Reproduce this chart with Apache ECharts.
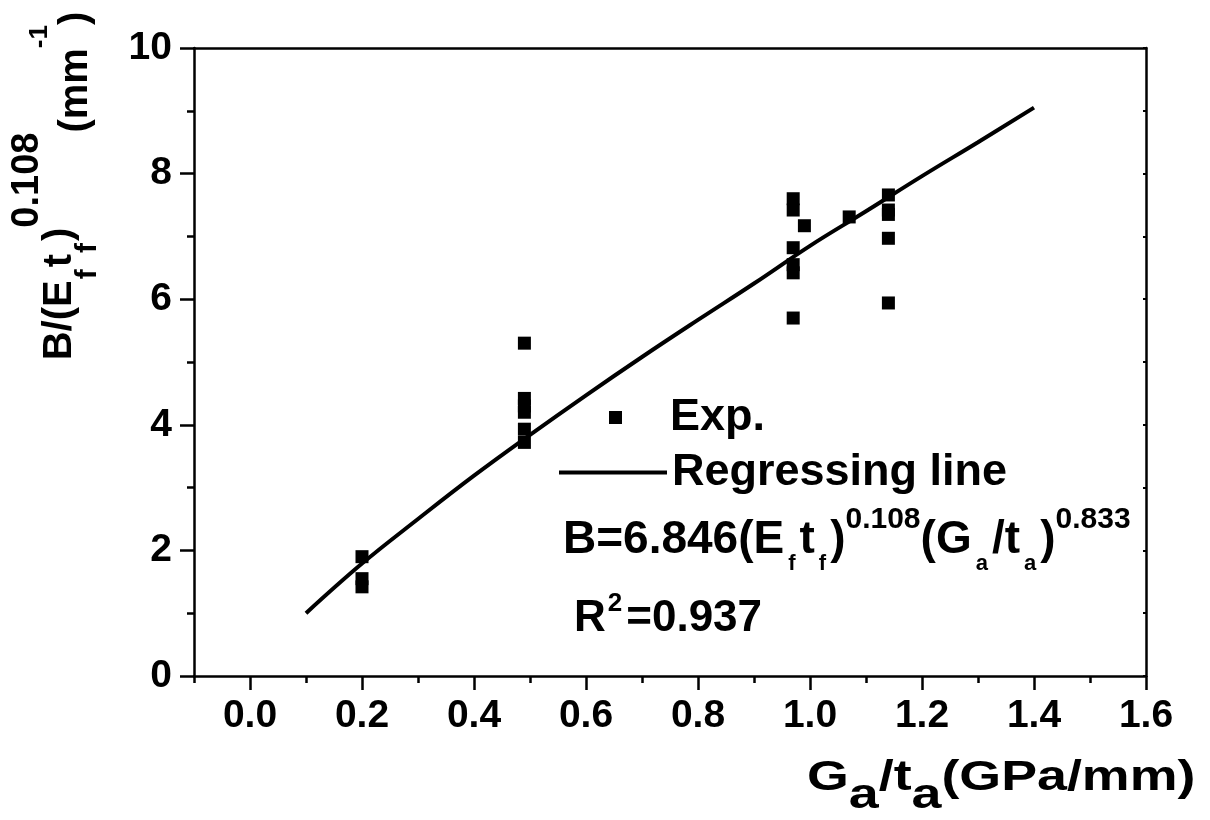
<!DOCTYPE html>
<html>
<head>
<meta charset="utf-8">
<script src="https://cdn.jsdelivr.net/npm/echarts@6/dist/echarts.min.js"></script>
<style>
html,body{margin:0;padding:0;background:#fff;}
#chart{width:1210px;height:820px;}
</style>
</head>
<body>
<div id="chart"></div>
<script>
// ---- data ----
const expX = [0.2, 0.2, 0.2, 0.49, 0.49, 0.49, 0.49, 0.49, 0.49, 0.97, 0.97, 0.97, 0.97, 0.97, 0.97, 0.99, 1.07, 1.14, 1.14, 1.14, 1.14, 1.14];
const expY = [1.9, 1.55, 1.42, 5.3, 4.42, 4.3, 4.2, 3.93, 3.72, 7.6, 7.42, 6.82, 6.55, 6.42, 5.7, 7.17, 7.31, 7.66, 7.42, 7.35, 6.97, 5.94];
const fitX = [0.1, 0.2, 0.3, 0.4, 0.5, 0.6, 0.7, 0.8, 0.9, 1.0, 1.1, 1.2, 1.3, 1.4];
const fitY = [1.0, 1.79, 2.5, 3.19, 3.84, 4.47, 5.08, 5.67, 6.25, 6.85, 7.4, 7.96, 8.5, 9.05];
const xLabelVals = [0, 0.2, 0.4, 0.6, 0.8, 1.0, 1.2, 1.4, 1.6];
const seriesNames = ['Exp.', 'Regressing line'];

const FONT = 'Liberation Sans';
const expData = expX.map((x, i) => [x, expY[i]]);
const fitData = fitX.map((x, i) => [x, fitY[i]]);

const chart = echarts.init(document.getElementById('chart'), null, {renderer: 'canvas'});
const axisLineStyle = {color: '#000', width: 2.5};
const labelStyle = {color: '#000', fontFamily: FONT, fontWeight: 'bold', fontSize: 39};

const option = {
  backgroundColor: '#fff',
  animation: false,
  grid: {left: 194, right: 64, top: 48, bottom: 144, containLabel: false},
  xAxis: [
    {
      type: 'value', min: -0.1, max: 1.6, interval: 0.1, position: 'bottom',
      axisLine: {show: true, onZero: false, lineStyle: axisLineStyle},
      axisTick: {show: true, length: 7, lineStyle: {color: '#000', width: 2.5}},
      axisLabel: Object.assign({margin: 21, customValues: xLabelVals, formatter: v => v.toFixed(1)}, labelStyle),
      splitLine: {show: false}
    },
    {
      type: 'value', min: -0.1, max: 1.6, interval: 0.1, position: 'bottom',
      axisLine: {show: false, onZero: false},
      axisTick: {show: true, length: 14, customValues: xLabelVals, lineStyle: {color: '#000', width: 2.5}},
      axisLabel: {show: false},
      splitLine: {show: false}
    },
    {
      type: 'value', min: -0.1, max: 1.6, interval: 0.1, position: 'top',
      axisLine: {show: true, onZero: false, lineStyle: axisLineStyle},
      axisTick: {show: false},
      axisLabel: {show: false},
      splitLine: {show: false}
    }
  ],
  yAxis: [
    {
      type: 'value', min: 0, max: 10, interval: 2, position: 'left',
      axisLine: {show: true, onZero: false, lineStyle: axisLineStyle},
      axisTick: {show: true, length: 14, lineStyle: {color: '#000', width: 2.5}},
      minorTick: {show: true, splitNumber: 2, length: 7, lineStyle: {color: '#000', width: 2.5}},
      axisLabel: Object.assign({margin: 22}, labelStyle),
      splitLine: {show: false}
    },
    {
      type: 'value', min: 0, max: 10, interval: 1, position: 'right',
      axisLine: {show: true, onZero: false, lineStyle: axisLineStyle},
      axisTick: {show: true, inside: true, length: 3, lineStyle: {color: '#000', width: 2}},
      axisLabel: {show: false},
      splitLine: {show: false}
    }
  ],
  legend: [
    {
      data: [seriesNames[0]], left: 609, top: 395, padding: 0,
      itemWidth: 13, itemHeight: 13,
      itemStyle: {opacity: 1},
      textStyle: {color: '#000', fontFamily: FONT, fontWeight: 'bold', fontSize: 45, lineHeight: 44, padding: [0, 0, 0, 43]},
      selectedMode: false
    },
    {
      data: [seriesNames[1]], left: 557, top: 450, padding: 0,
      itemWidth: 108, itemHeight: 14,
      itemStyle: {opacity: 0},
      lineStyle: {color: '#000', width: 4},
      textStyle: {color: '#000', fontFamily: FONT, fontWeight: 'bold', fontSize: 45, lineHeight: 44},
      selectedMode: false
    }
  ],
  series: [
    {
      name: seriesNames[0], type: 'scatter', data: expData,
      symbol: 'rect', symbolSize: 13,
      itemStyle: {color: '#000', opacity: 1}, z: 3
    },
    {
      name: seriesNames[1], type: 'line', data: fitData,
      symbol: 'none', smooth: 0.4,
      lineStyle: {color: '#000', width: 4}, itemStyle: {color: '#000'}, z: 2
    }
  ],
  graphic: [
    // formula
    {
      type: 'text', left: 563, top: 505,
      style: {
        fill: '#000',
        rich: {
          m: {fontFamily: FONT, fontWeight: 'bold', fontSize: 46, lineHeight: 70, verticalAlign: 'middle', fill: '#000'},
          b: {fontFamily: FONT, fontWeight: 'bold', fontSize: 22, verticalAlign: 'bottom', padding: [0, 4, 0, 4], fill: '#000'},
          p: {fontFamily: FONT, fontWeight: 'bold', fontSize: 30, verticalAlign: 'top', padding: [0, 0, 0, 0], fill: '#000'}
        },
        text: '{m|B=6.846(E}{b|f}{m|t}{b|f}{m|)}{p|0.108}{m|(G}{b|a}{m|/t}{b|a}{m|)}{p|0.833}'
      }
    },
    // R^2
    {
      type: 'text', left: 574, top: 591,
      style: {
        fill: '#000',
        rich: {
          m: {fontFamily: FONT, fontWeight: 'bold', fontSize: 44, lineHeight: 56, verticalAlign: 'middle', fill: '#000'},
          p: {fontFamily: FONT, fontWeight: 'bold', fontSize: 26, verticalAlign: 'top', padding: [0, 4, 0, 2], fill: '#000'}
        },
        text: '{m|R}{p|2}{m|=0.937}'
      }
    },
    // x axis title
    {
      type: 'text', x: 807, y: 778, scaleX: 1.28, scaleY: 1,
      style: {
        fill: '#000', align: 'left', verticalAlign: 'middle',
        rich: {
          m: {fontFamily: FONT, fontWeight: 'bold', fontSize: 42, lineHeight: 78, verticalAlign: 'middle', fill: '#000'},
          b: {fontFamily: FONT, fontWeight: 'bold', fontSize: 42, verticalAlign: 'bottom', fill: '#000'}
        },
        text: '{m|G}{b|a}{m|/t}{b|a}{m|(GPa/mm)}'
      }
    },
    // y axis title
    {
      type: 'text', x: 60, y: 186, rotation: Math.PI / 2,
      style: {
        fill: '#000', align: 'center', verticalAlign: 'middle',
        rich: {
          m: {fontFamily: FONT, fontWeight: 'bold', fontSize: 40, lineHeight: 102, verticalAlign: 'middle', fill: '#000'},
          b: {fontFamily: FONT, fontWeight: 'bold', fontSize: 30, verticalAlign: 'bottom', padding: [0, 2, 8, 1], fill: '#000'},
          p: {fontFamily: FONT, fontWeight: 'bold', fontSize: 38, verticalAlign: 'top', padding: [0, 0, 0, 0], fill: '#000'},
          d: {fontFamily: FONT, fontWeight: 'bold', fontSize: 40, verticalAlign: 'bottom', padding: [0, 0, 15, 0], fill: '#000'},
          q: {fontFamily: FONT, fontWeight: 'bold', fontSize: 26, verticalAlign: 'top', padding: [18, 0, 0, 0], fill: '#000'}
        },
        text: '{m|B/(E}{b|f}{m|t}{b|f}{m|)}{p|0.108}{d|(mm}{q|-1}{d|)}'
      }
    }
  ]
};
chart.setOption(option);
</script>
</body>
</html>
